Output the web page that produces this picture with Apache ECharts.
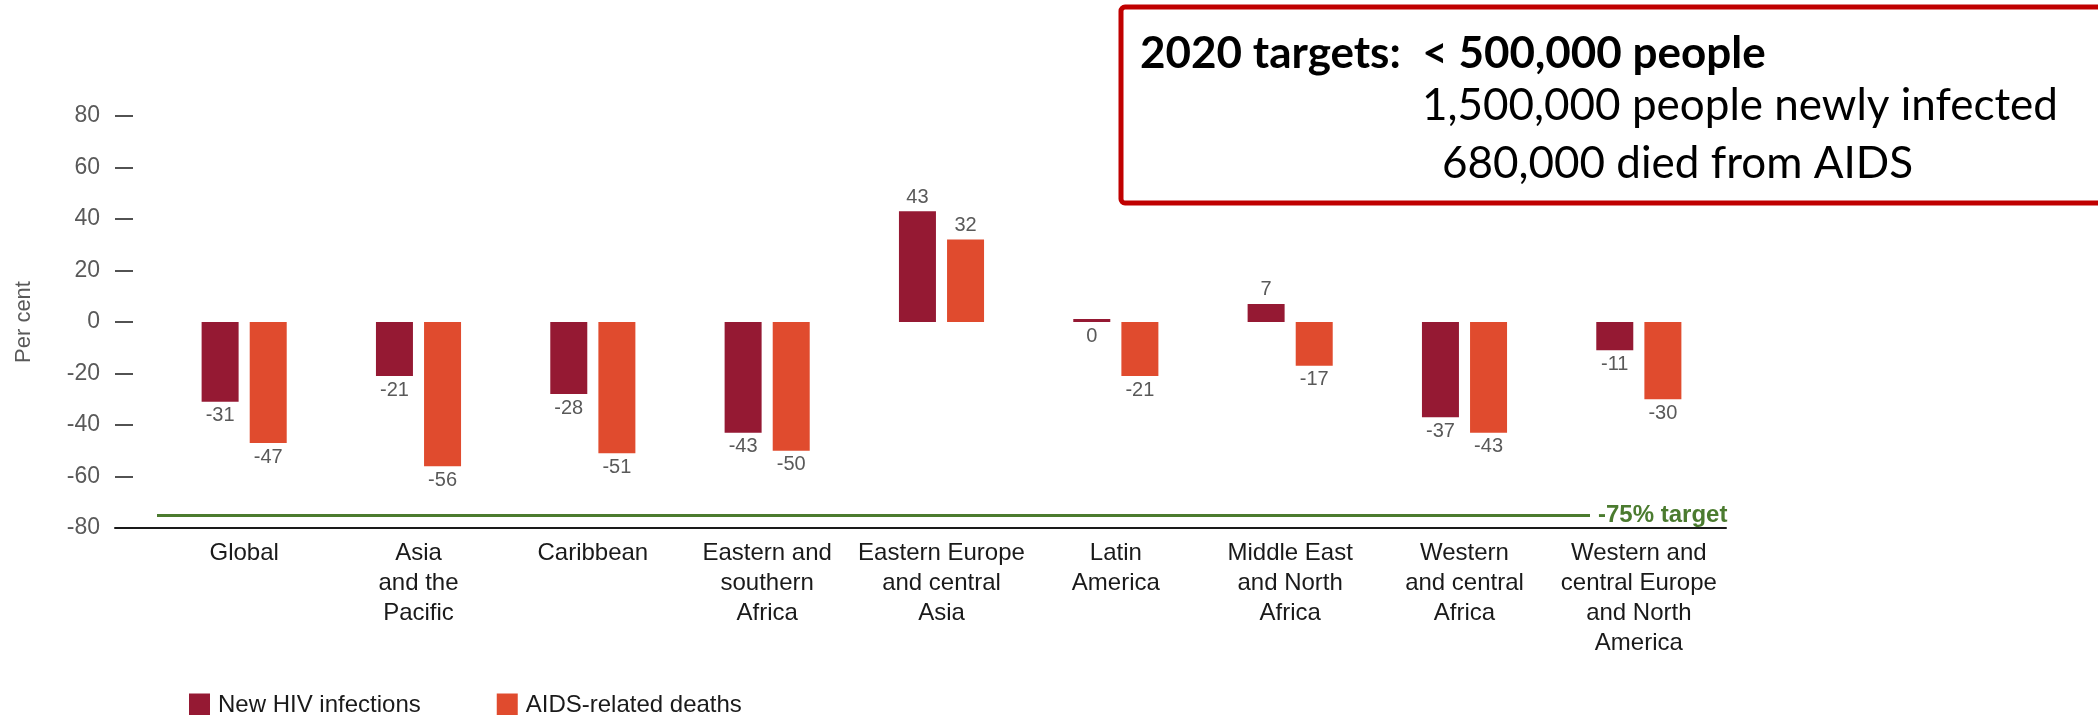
<!DOCTYPE html>
<html>
<head>
<meta charset="utf-8">
<script src="https://cdn.jsdelivr.net/npm/echarts@6/dist/echarts.min.js"></script>
<style>
  html, body { margin: 0; padding: 0; background: #ffffff; }
  #chart { width: 2098px; height: 715px; }
</style>
</head>
<body>
<div id="chart"></div>
<script>
// Regions and per cent change values
const regions = [
  'Global',
  'Asia\nand the\nPacific',
  'Caribbean',
  'Eastern and\nsouthern\nAfrica',
  'Eastern Europe\nand central\nAsia',
  'Latin\nAmerica',
  'Middle East\nand North\nAfrica',
  'Western\nand central\nAfrica',
  'Western and\ncentral Europe\nand North\nAmerica'
];
const newInfections = [-31, -21, -28, -43, 43, 0, 7, -37, -11];
const aidsDeaths = [-47, -56, -51, -50, 32, -21, -17, -43, -30];
const seriesNames = ['New HIV infections', 'AIDS-related deaths'];
const targetValue = -75;
const targetLabel = '-75% target';
const yMin = -80, yMax = 80, yStep = 20;

const boxLines = [
  '2020 targets:  < 500,000 people',
  '1,500,000 people newly infected',
  '680,000 died from AIDS'
];

const DARK = '#951933';
const ORANGE = '#E04B2E';
const GREEN = '#4B7B2F';
const FONT = '"Liberation Sans", Arial, sans-serif';

function withLabels(values) {
  return values.map(v => ({
    value: v,
    label: { position: v > 0 ? 'top' : 'bottom' }
  }));
}

const valueLabel = {
  show: true,
  distance: 4,
  fontSize: 20,
  color: '#595959',
  fontFamily: FONT
};

const chart = echarts.init(document.getElementById('chart'), null, { renderer: 'canvas' });

const gridTop = 116, gridBottom = 187;

chart.setOption({
  backgroundColor: '#ffffff',
  animation: false,
  textStyle: { fontFamily: FONT },
  grid: [
    { left: 157, right: 372, top: gridTop, bottom: gridBottom },
    { left: 115, right: 372, top: gridTop, bottom: gridBottom },
    { left: 157, right: 508, top: gridTop, bottom: gridBottom }
  ],
  xAxis: [
    {
      gridIndex: 0, type: 'category', data: regions,
      axisLine: { show: false, onZero: false },
      axisTick: { show: false },
      axisLabel: {
        interval: 0, margin: 10, fontSize: 24, lineHeight: 30,
        color: '#1a1a1a', fontFamily: FONT
      }
    },
    {
      gridIndex: 1, type: 'category', data: [''],
      axisLine: { show: true, onZero: false, lineStyle: { color: '#1a1a1a', width: 2 } },
      axisTick: { show: false },
      axisLabel: { show: false }
    },
    {
      gridIndex: 2, type: 'category', data: [''], show: false,
      axisLine: { onZero: false }
    }
  ],
  yAxis: [
    { gridIndex: 0, type: 'value', min: yMin, max: yMax, interval: yStep, show: false, splitLine: { show: false } },
    {
      gridIndex: 1, type: 'value', min: yMin, max: yMax, interval: yStep,
      name: 'Per cent', nameLocation: 'middle', nameRotate: 90, nameGap: 80,
      nameTextStyle: { fontSize: 22, color: '#595959', fontFamily: FONT },
      axisLine: { show: false },
      axisTick: { show: true, inside: true, length: 18, lineStyle: { color: '#1a1a1a', width: 1.5 } },
      axisLabel: { margin: 15, fontSize: 23, color: '#595959', fontFamily: FONT },
      splitLine: { show: false }
    },
    { gridIndex: 2, type: 'value', min: yMin, max: yMax, interval: yStep, show: false, splitLine: { show: false } }
  ],
  legend: {
    left: 184, top: 688,
    itemWidth: 21, itemHeight: 23, itemGap: 76,
    icon: 'rect',
    data: seriesNames,
    textStyle: { fontSize: 24, color: '#1a1a1a', fontFamily: FONT, padding: [0, 0, 0, 3] }
  },
  series: [
    {
      name: seriesNames[0], type: 'bar', xAxisIndex: 0, yAxisIndex: 0,
      data: withLabels(newInfections),
      barWidth: 37, barGap: '30%', barMinHeight: 3,
      itemStyle: { color: DARK },
      label: valueLabel
    },
    {
      name: seriesNames[1], type: 'bar', xAxisIndex: 0, yAxisIndex: 0,
      data: withLabels(aidsDeaths),
      barWidth: 37, barGap: '30%',
      itemStyle: { color: ORANGE },
      label: valueLabel
    },
    {
      name: 'target', type: 'line', xAxisIndex: 2, yAxisIndex: 2,
      data: [], silent: true,
      markLine: {
        silent: true, symbol: ['none', 'none'],
        lineStyle: { color: GREEN, width: 3, type: 'solid' },
        label: {
          show: true, position: 'end', distance: 8,
          formatter: targetLabel,
          color: GREEN, fontSize: 24, fontWeight: 'bold', fontFamily: FONT
        },
        data: [{ yAxis: targetValue }]
      }
    }
  ],
  graphic: [
    {
      type: 'rect', z: 10,
      shape: { x: 1121, y: 7, width: 1000, height: 196, r: 4 },
      style: { fill: '#ffffff', stroke: '#C00000', lineWidth: 5 }
    },
    {
      type: 'text', z: 11, left: 1140, top: 32,
      style: { text: boxLines[0], font: 'bold 44px Lato, sans-serif', fill: '#000000' }
    },
    {
      type: 'text', z: 11, left: 1422, top: 84,
      style: { text: boxLines[1], font: '44px Lato, sans-serif', fill: '#000000' }
    },
    {
      type: 'text', z: 11, left: 1442, top: 142,
      style: { text: boxLines[2], font: '44px Lato, sans-serif', fill: '#000000' }
    }
  ]
});
</script>
</body>
</html>
